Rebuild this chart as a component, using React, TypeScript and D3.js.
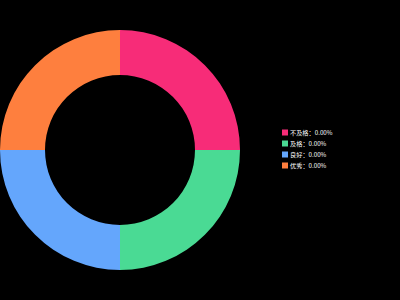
import React from "react";
import * as d3 from "d3";

const categories = ["不及格", "及格", "良好", "优秀"];
const values = [0, 0, 0, 0];
const colors = ["#F72C78", "#4ADA94", "#64A6FC", "#FE7F3E"];

export default function App() {
  const width = 400;
  const height = 300;
  const cx = 120;
  const cy = 150;
  const outerR = 120;
  const innerR = 75;
  const total = d3.sum(values);
  const pie = d3
    .pie<number>()
    .sort(null)
    .value((d) => (total === 0 ? 1 : d));
  const arcs = pie(values);
  const arc = d3.arc<d3.PieArcDatum<number>>().innerRadius(innerR).outerRadius(outerR);
  const legendY = d3.scaleBand<number>().domain(d3.range(categories.length)).range([127, 171]);
  const pct = (v: number) => (total === 0 ? 0 : (v / total) * 100).toFixed(2) + "%";

  return (
    <svg
      width={width}
      height={height}
      style={{ position: "absolute", left: 0, top: 0, background: "#000" }}
    >
      <rect width={width} height={height} fill="#000" />
      <g transform={`translate(${cx},${cy})`}>
        {arcs.map((a, i) => (
          <path key={i} d={arc(a) || ""} fill={colors[i]} />
        ))}
      </g>
      <g fontFamily="'Noto Sans CJK SC', 'Noto Sans', sans-serif" fontSize={6.2} fill="#fff">
        {categories.map((c, i) => {
          const y = (legendY(i) as number) + legendY.bandwidth() / 2;
          return (
            <g key={c}>
              <rect x={282} y={y - 3} width={6} height={6} fill={colors[i]} />
              <text x={290} y={y} dominantBaseline="central">
                {c}：{pct(values[i])}
              </text>
            </g>
          );
        })}
      </g>
    </svg>
  );
}
